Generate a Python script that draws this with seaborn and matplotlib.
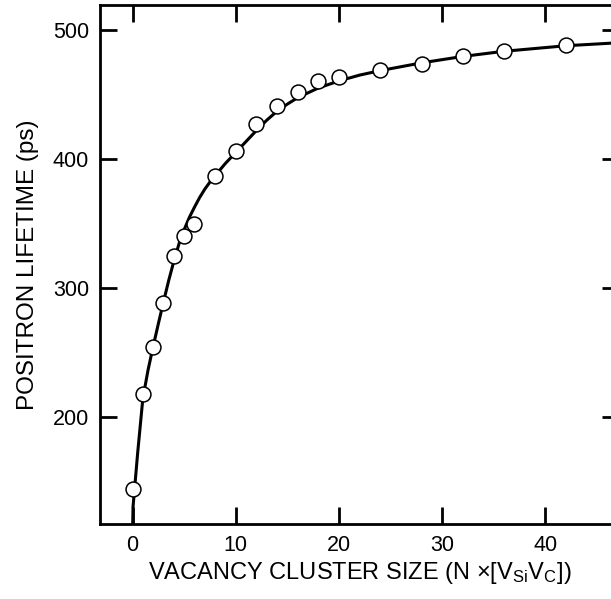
import matplotlib
matplotlib.use("Agg")
import matplotlib.pyplot as plt
import seaborn as sns
import pandas as pd

# measured data points
cluster_size = [0, 1, 2, 3, 4, 5, 6, 8, 10, 12, 14, 16, 18, 20, 24, 28, 32, 36, 42]
lifetime = [144, 217.5, 254, 288.5, 324.5, 340, 349.5, 386.5, 406, 427, 441.3, 452, 460.7, 463.3,
            468.7, 473.6, 480, 483.7, 488.4]

# fitted curve
curve_n = [0.02, 0.05, 0.5, 1, 1.5, 2, 2.5, 3, 3.5, 4, 4.5, 5, 5.5, 6, 6.5, 7, 7.5, 8, 9, 10,
           11, 12, 13, 14, 15, 16, 18, 20, 22, 24, 28, 32, 36, 42, 47.5]
curve_tau = [117, 130, 172, 214, 236, 254.5, 272, 289, 305.5, 320.5, 334, 345, 354.5, 362.5,
             370, 376.5, 382, 387, 396.5, 405, 413.5, 422, 430, 437, 442.5, 447.5, 455, 460.5,
             465, 468.5, 474.5, 479.5, 483.5, 487.8, 490.3]

x_ticks = [0, 10, 20, 30, 40]
y_ticks = [200, 300, 400, 500]

sns.set_theme(style="ticks")
plt.rcParams['font.family'] = ['Liberation Sans', 'DejaVu Sans']
plt.rcParams['mathtext.fontset'] = 'custom'
plt.rcParams['mathtext.rm'] = 'Liberation Sans'
plt.rcParams['mathtext.it'] = 'Liberation Sans:italic'
plt.rcParams['mathtext.bf'] = 'Liberation Sans:bold'

fig = plt.figure(figsize=(6.11, 5.99), dpi=100)
ax = fig.add_axes([100 / 611, (599 - 523.5) / 599, (618.7 - 100) / 611, (523.5 - 5) / 599])

curve_df = pd.DataFrame({"n": curve_n, "tau": curve_tau})
pts_df = pd.DataFrame({"n": cluster_size, "tau": lifetime})

sns.lineplot(data=curve_df, x="n", y="tau", ax=ax, color="black", linewidth=2.2,
             sort=False, estimator=None, zorder=2)
sns.scatterplot(data=pts_df, x="n", y="tau", ax=ax, s=115, marker="o",
                facecolor="white", edgecolor="black", linewidth=1.1, zorder=3)

ax.set_xlim(-3.15, 47.1)
ax.set_ylim(117.1, 519.4)
ax.set_xticks(x_ticks)
ax.set_yticks(y_ticks)
ax.tick_params(direction="in", length=12, width=2, top=True, right=True,
               labelsize=15.5, colors="black", pad=8)
for sp in ax.spines.values():
    sp.set_linewidth(2)
    sp.set_color("black")

ax.set_xlabel(r"VACANCY CLUSTER SIZE (N ×[$\mathrm{V_{Si}V_{C}}$])", fontsize=17,
              labelpad=3, color="black")
ax.set_ylabel("POSITRON LIFETIME (ps)", fontsize=17.5, labelpad=10, color="black")

fig.savefig("out.png", dpi=100)
